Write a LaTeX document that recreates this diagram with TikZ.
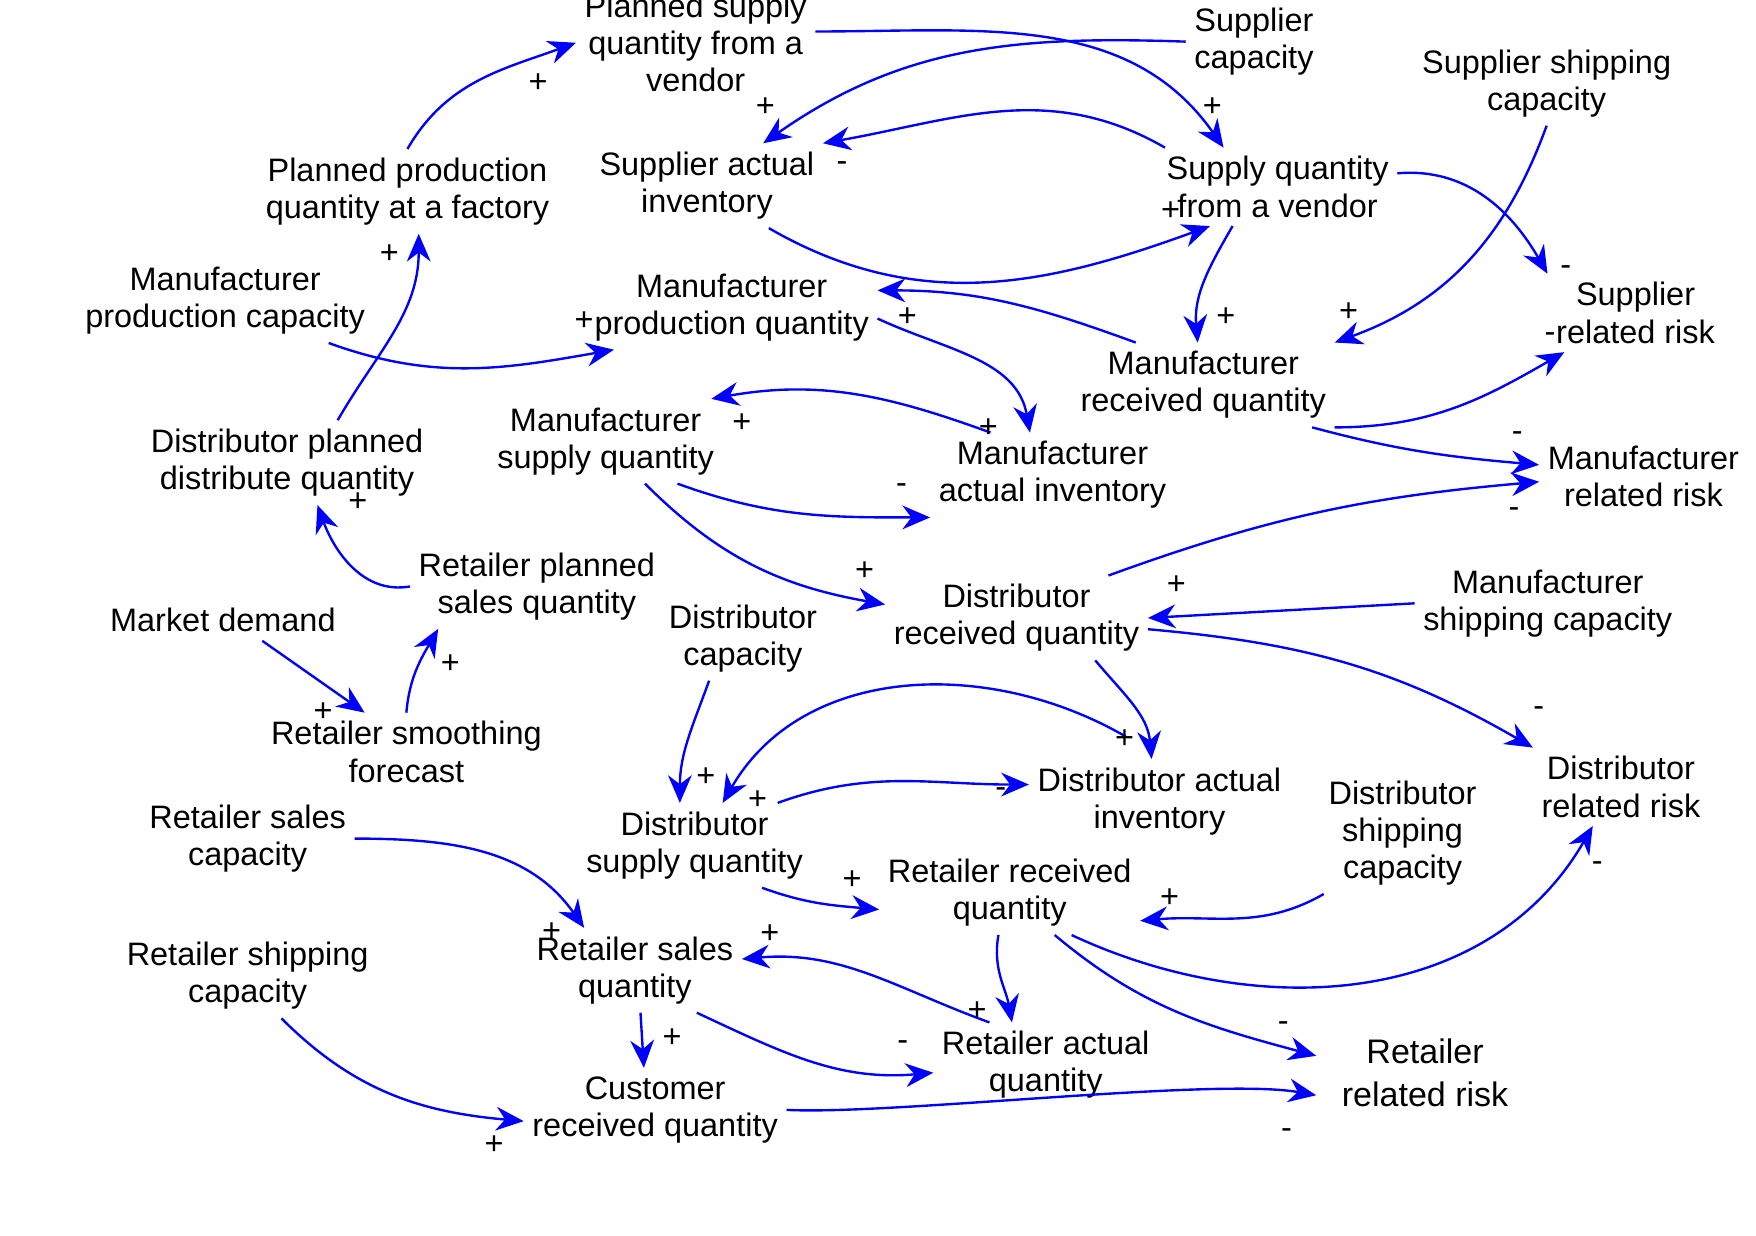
\documentclass[tikz,border=0pt]{standalone}
\usepackage{fontspec}
\setmainfont{Liberation Sans}
\usetikzlibrary{arrows.meta}

\begin{document}
\begin{tikzpicture}[x=0.01cm, y=-0.01cm]
\tikzstyle{var} = [align=center, inner sep=2pt, font=\fontsize{8.2}{9.4}\selectfont]
\tikzstyle{link} = [draw=blue, line width=0.6pt, -{Stealth[length=7pt, width=6pt]}]
\tikzstyle{sgn} = [inner sep=0pt, font=\fontsize{8.2}{9.4}\selectfont]
\useasboundingbox (0,0) rectangle (1560,1098);

% variables
\node (PSQ)  [var] at (618,38)   {Planned supply\\quantity from a\\vendor};
\node (SC)   [var] at (1114,37)  {Supplier\\capacity};
\node (SSC)  [var] at (1374,74)  {Supplier shipping\\capacity};
\node (PPQ)  [var] at (362,170)  {Planned production\\quantity at a factory};
\node (SAI)  [var] at (628,165)  {Supplier actual\\inventory};
\node (SQV)  [var] at (1135,166) {Supply quantity\\from a vendor};
\node (MPC)  [var] at (200,267)  {Manufacturer\\production capacity};
\node (MPQ)  [var] at (650,273)  {Manufacturer\\production quantity};
\node (SRR)  [var] at (1453,278) {Supplier\\related risk};
\node (MRQ)  [var] at (1069,342) {Manufacturer\\received quantity};
\node (DPDQ) [var] at (255,411)  {Distributor planned\\distribute quantity};
\node (MSQ)  [var] at (538,392)  {Manufacturer\\supply quantity};
\node (MAI)  [var] at (935,422)  {Manufacturer\\actual inventory};
\node (MRR)  [var] at (1460,423) {Manufacturer\\related risk};
\node (RPSQ) [var] at (477,521)  {Retailer planned\\sales quantity};
\node (MD)   [var] at (198,551)  {Market demand};
\node (DC)   [var] at (660,567)  {Distributor\\capacity};
\node (DRQ)  [var] at (903,549)  {Distributor\\received quantity};
\node (MSC)  [var] at (1375,536) {Manufacturer\\shipping capacity};
\node (RSF)  [var] at (361,668)  {Retailer smoothing\\forecast};
\node (DAI)  [var] at (1030,712) {Distributor actual\\inventory};
\node (DRR)  [var] at (1440,699) {Distributor\\related risk};
\node (RSC)  [var] at (220,745)  {Retailer sales\\capacity};
\node (DSQ)  [var] at (617,751)  {Distributor\\supply quantity};
\node (DSC)  [var] at (1246,740) {Distributor\\shipping\\capacity};
\node (RRQ)  [var] at (897,793)  {Retailer received\\quantity};
\node (RShC) [var] at (220,867)  {Retailer shipping\\capacity};
\node (RSQ)  [var] at (564,862)  {Retailer sales\\quantity};
\node (RAQ)  [var] at (929,946)  {Retailer actual\\quantity};
\node (RRR)  [var, font=\fontsize{8.6}{11}\selectfont] at (1266,953) {Retailer\\related risk};
\node (CRQ)  [var] at (582,986)  {Customer\\received quantity};

% causal links
\draw [link] (PPQ.north) to[out=60, in=200] (PSQ.west);
\draw [link] ([yshift=0.1cm]PSQ.east) to[out=0, in=125] ([xshift=-0.48cm]SQV.north);
\draw [link] (SC.west) to[out=178, in=35] ([xshift=0.5cm]SAI.north);
\draw [link] ([xshift=-1cm]SQV.north) to[out=150, in=10] (SAI.north east);
\draw [link] ([xshift=0.55cm]SAI.south) to[out=-30, in=200] ([xshift=-0.6cm]SQV.south);
\draw [link] ([xshift=-0.4cm]SQV.south) to[out=240, in=95] ([xshift=-0.05cm]MRQ.north);
\draw [link] ([yshift=0.12cm]SQV.east) to[out=5, in=120] (SRR.north west);
\draw [link] (SSC.south) to[out=250, in=20] (MRQ.north east);
\draw [link] ([xshift=-0.6cm]MRQ.north) to[out=160, in=0] ([yshift=0.15cm]MPQ.east);
\draw [link] ([xshift=-0.4cm]MPC.south east) to[out=-20, in=190] ([xshift=0.25cm]MPQ.south west);
\draw [link] ([yshift=-0.1cm]MPQ.east) to[out=-25, in=100] ([xshift=-0.2cm]MAI.north);
\draw [link] ([xshift=-0.55cm]MAI.north) to[out=160, in=10] ([xshift=-0.1cm]MSQ.north east);
\draw [link] ([xshift=-0.4cm]MSQ.south east) to[out=-20, in=180] (MAI.south west);
\draw [link] ([xshift=0.35cm]MSQ.south) to[out=-45, in=170] ([yshift=0.12cm]DRQ.west);
\draw [link] (MRQ.south east) to[out=0, in=210] ([xshift=0.15cm]SRR.south west);
\draw [link] ([xshift=-0.2cm]MRQ.south east) to[out=-15, in=175] ([yshift=0.1cm]MRR.west);
\draw [link] ([xshift=-0.35cm]DRQ.north east) to[out=20, in=185] ([yshift=-0.05cm]MRR.west);
\draw [link] (MSC.west) -- (DRQ.east);
\draw [link] ([yshift=-0.1cm]DRQ.east) to[out=-5, in=150] (DRR.north west);
\draw [link] ([xshift=0.7cm]DRQ.south) to[out=-50, in=95] ([xshift=-0.07cm]DAI.north);
\draw [link] ([xshift=-0.3cm,yshift=0.2cm]DAI.north) to[out=150, in=60] ([xshift=0.25cm]DSQ.north);
\draw [link] ([xshift=-0.3cm]DSQ.north east) to[out=20, in=180] ([yshift=0.15cm]DAI.west);
\draw [link] ([xshift=-0.3cm]DC.south) to[out=250, in=90] ([xshift=-0.13cm]DSQ.north);
\draw [link] ([xshift=0.45cm]DPDQ.north) to[out=60, in=270] ([xshift=0.1cm]PPQ.south);
\draw [link] (RPSQ.west) to[out=190, in=290] ([xshift=0.27cm]DPDQ.south);
\draw [link] ([xshift=0.35cm]MD.south) -- ([xshift=-0.37cm]RSF.north);
\draw [link] (RSF.north) to[out=85, in=240] ([xshift=0.25cm]RPSQ.south west);
\draw [link] (RSC.east) to[out=0, in=125] ([xshift=0.5cm]RSQ.north west);
\draw [link] ([xshift=0.6cm]DSQ.south) to[out=-20, in=175] ([yshift=-0.15cm]RRQ.west);
\draw [link] ([xshift=-0.7cm]DSC.south) to[out=210, in=5] ([yshift=-0.25cm]RRQ.east);
\draw [link] ([xshift=-0.1cm]RRQ.south) to[out=260, in=100] ([xshift=-0.3cm]RAQ.north);
\draw [link] ([xshift=-0.5cm]RAQ.north) to[out=160, in=5] ([yshift=0.1cm]RSQ.east);
\draw [link] ([xshift=0.05cm]RSQ.south) -- ([xshift=-0.1cm]CRQ.north);
\draw [link] ([xshift=0.55cm]RSQ.south) to[out=-25, in=185] ([yshift=-0.07cm]RAQ.west);
\draw [link] ([xshift=0.3cm]RShC.south) to[out=-45, in=175] ([yshift=-0.1cm]CRQ.west);
\draw [link] (CRQ.east) to[out=-3, in=170, looseness=0.5] ([xshift=-0.15cm,yshift=-0.2cm]RRR.west);
\draw [link] ([xshift=0.4cm]RRQ.south) to[out=-40, in=165] ([xshift=-0.15cm,yshift=0.15cm]RRR.west);
\draw [link] ([xshift=0.55cm]RRQ.south) to[out=-25, in=240] ([xshift=-0.25cm]DRR.south);

% polarities
\foreach \x/\y/\s [count=\i] in {478/74/+, 680/95/+, 1077/95/+, 748/148/-, 1040/188/+,
  1089/282/+, 1198/277/+, 1391/240/-, 1377/300/-, 346/226/+, 519/285/+, 806/282/+,
  878/380/+, 659/376/+, 1348/388/-, 1345/455/-, 801/434/-, 318/446/+, 768/507/+,
  1045/520/+, 400/590/+, 287/633/+, 1367/632/-, 999/657/+, 627/690/+, 673/711/+,
  889/704/-, 757/782/+, 1039/798/+, 1419/770/-, 490/828/+, 684/830/+, 868/898/+,
  597/922/+, 802/929/-, 1140/912/-, 1143/1007/-, 439/1017/+}
  \node (p\i) [sgn] at (\x,\y) {\s};
\end{tikzpicture}
\end{document}
